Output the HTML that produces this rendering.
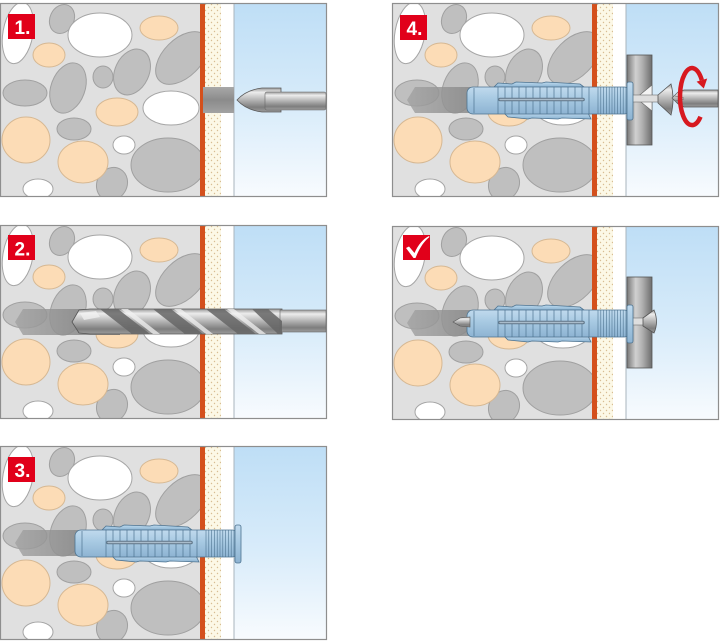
<!DOCTYPE html>
<html><head><meta charset="utf-8"><style>html,body{margin:0;padding:0;background:#fff}svg{display:block}</style></head>
<body>
<svg width="720" height="641" viewBox="0 0 720 641" xmlns="http://www.w3.org/2000/svg" xmlns:xlink="http://www.w3.org/1999/xlink">
<defs>
<clipPath id="cc"><rect x="0" y="0" width="200" height="194"/></clipPath>
<linearGradient id="blue" x1="0" y1="0" x2="0" y2="1"><stop offset="0" stop-color="#bedef6"/><stop offset="0.55" stop-color="#d9ecfa"/><stop offset="1" stop-color="#f8fbfe"/></linearGradient>
<pattern id="dots" width="6" height="6" patternUnits="userSpaceOnUse"><rect width="6" height="6" fill="#fcf8e6"/><circle cx="1.5" cy="1.5" r="0.7" fill="#d8bd92"/><circle cx="4.5" cy="4.5" r="0.7" fill="#d8bd92"/></pattern>
<linearGradient id="hole" x1="0" y1="0" x2="1" y2="0"><stop offset="0" stop-color="#a3a3a3"/><stop offset="0.5" stop-color="#8c8c8c"/><stop offset="1" stop-color="#767676"/></linearGradient>
<linearGradient id="hole1" x1="0" y1="0" x2="0" y2="1"><stop offset="0" stop-color="#a8a8a8"/><stop offset="0.5" stop-color="#8b8b8b"/><stop offset="1" stop-color="#a2a2a2"/></linearGradient>
<linearGradient id="steel" x1="0" y1="0" x2="0" y2="1"><stop offset="0" stop-color="#9a9a9a"/><stop offset="0.18" stop-color="#ececec"/><stop offset="0.45" stop-color="#bcbcbc"/><stop offset="0.8" stop-color="#7e7e7e"/><stop offset="1" stop-color="#9c9c9c"/></linearGradient>
<linearGradient id="cyl" x1="0" y1="0" x2="1" y2="0"><stop offset="0" stop-color="#777"/><stop offset="0.35" stop-color="#d0d0d0"/><stop offset="0.6" stop-color="#b2b2b2"/><stop offset="1" stop-color="#6d6d6d"/></linearGradient>
<linearGradient id="dw" x1="0" y1="0" x2="0" y2="1"><stop offset="0" stop-color="#c0daee"/><stop offset="0.45" stop-color="#a7c9e2"/><stop offset="1" stop-color="#8db3d2"/></linearGradient>

<g id="base">
  <rect x="0" y="0" width="200" height="194" fill="#e0e0e0"/>
  <g clip-path="url(#cc)" stroke-width="1">
    <g fill="#bfbfbf" stroke="#a0a0a0">
      <ellipse cx="62" cy="16" rx="12" ry="15" transform="rotate(25 62 16)"/>
      <ellipse cx="182" cy="55" rx="32" ry="19" transform="rotate(-45 182 55)"/>
      <ellipse cx="132" cy="69" rx="17" ry="24" transform="rotate(25 132 69)"/>
      <ellipse cx="103" cy="74" rx="10" ry="11"/>
      <ellipse cx="68" cy="85" rx="17" ry="26" transform="rotate(20 68 85)"/>
      <ellipse cx="25" cy="90" rx="22" ry="13"/>
      <ellipse cx="74" cy="126" rx="17" ry="11"/>
      <ellipse cx="168" cy="162" rx="37" ry="27"/>
      <ellipse cx="112" cy="181" rx="15" ry="17" transform="rotate(30 112 181)"/>
    </g>
    <g fill="#ffffff" stroke="#a5a5a5">
      <ellipse cx="18" cy="30" rx="15" ry="31" transform="rotate(10 18 30)"/>
      <ellipse cx="100" cy="32" rx="32" ry="22"/>
      <ellipse cx="171" cy="105" rx="28" ry="17"/>
      <ellipse cx="124" cy="142" rx="11" ry="9"/>
      <ellipse cx="38" cy="186" rx="15" ry="10"/>
    </g>
    <g fill="#fcdcb6" stroke="#d6b893">
      <ellipse cx="159" cy="25" rx="19" ry="12"/>
      <ellipse cx="49" cy="52" rx="16" ry="12"/>
      <ellipse cx="117" cy="109" rx="21" ry="14"/>
      <ellipse cx="26" cy="137" rx="24" ry="23"/>
      <ellipse cx="83" cy="159" rx="25" ry="21"/>
    </g>
  </g>
  <rect x="200" y="0" width="5" height="194" fill="#d4501c"/>
  <rect x="205" y="0" width="16" height="194" fill="url(#dots)"/>
  <rect x="221" y="0" width="13" height="194" fill="#ffffff"/>
  <rect x="234" y="0" width="92" height="194" fill="url(#blue)"/>
  <line x1="234" y1="0" x2="234" y2="194" stroke="#a9b4bd" stroke-width="1"/>
  <rect x="0.5" y="0.5" width="326" height="193" fill="none" stroke="#8e8e8e" stroke-width="1.2"/>
</g>

<polygon id="holeShape" points="15,97 23,84 120,84 120,110 23,110" fill="url(#hole)" opacity="0.82"/>

<g id="dowel">
  <path d="M102,84 L106,80 L120,81 L124,79 L150,80 L154,79 L188,81 L192,84 Z" fill="url(#dw)" stroke="#4d7390" stroke-width="0.8"/>
  <path d="M112,110 L196,110 L199,116 L170,115 L166,116 L140,115 L136,116 L116,114 Z" fill="url(#dw)" stroke="#4d7390" stroke-width="0.8"/>
  <rect x="75" y="84" width="163" height="27" rx="6" fill="url(#dw)" stroke="#4d7390" stroke-width="0.8"/>
  <line x1="82" y1="85" x2="82" y2="110" stroke="#4d7390" stroke-width="0.7"/>
  <g stroke="#4d7390" stroke-width="0.7">
    <line x1="106" y1="84" x2="106" y2="111"/><line x1="113" y1="84" x2="113" y2="111"/>
    <line x1="120" y1="84" x2="120" y2="111"/><line x1="127" y1="84" x2="127" y2="111"/>
    <line x1="134" y1="84" x2="134" y2="111"/><line x1="141" y1="84" x2="141" y2="111"/>
    <line x1="148" y1="84" x2="148" y2="111"/><line x1="155" y1="84" x2="155" y2="111"/>
    <line x1="162" y1="84" x2="162" y2="111"/><line x1="169" y1="84" x2="169" y2="111"/>
    <line x1="176" y1="84" x2="176" y2="111"/><line x1="183" y1="84" x2="183" y2="111"/>
    <line x1="190" y1="84" x2="190" y2="111"/><line x1="197" y1="84" x2="197" y2="111"/>
  </g>
  <g stroke="#4d7390" stroke-width="0.6">
    <line x1="206" y1="84" x2="206" y2="111"/><line x1="208.8" y1="84" x2="208.8" y2="111"/>
    <line x1="211.6" y1="84" x2="211.6" y2="111"/><line x1="214.4" y1="84" x2="214.4" y2="111"/>
    <line x1="217.2" y1="84" x2="217.2" y2="111"/><line x1="220" y1="84" x2="220" y2="111"/>
    <line x1="222.8" y1="84" x2="222.8" y2="111"/><line x1="225.6" y1="84" x2="225.6" y2="111"/>
    <line x1="228.4" y1="84" x2="228.4" y2="111"/><line x1="231.2" y1="84" x2="231.2" y2="111"/>
    <line x1="234" y1="84" x2="234" y2="111"/>
  </g>
  <line x1="108" y1="96.5" x2="191" y2="96.5" stroke="#5f7587" stroke-width="3.6" stroke-linecap="round"/>
  <line x1="108" y1="96.5" x2="191" y2="96.5" stroke="#a9bccb" stroke-width="1.4" stroke-linecap="round"/>
  <rect x="235" y="79" width="6" height="38" rx="2" fill="url(#dw)" stroke="#4d7390" stroke-width="0.8"/>
</g>
</defs>

<!-- Panel 1 -->
<g transform="translate(0,3)">
  <use xlink:href="#base" href="#base"/>
  <rect x="203" y="84" width="31" height="26" fill="url(#hole1)"/>
  <path d="M237,97 Q246,87 262,85 L281,85 L281,109 L262,109 Q246,107 237,97 Z" fill="url(#steel)" stroke="#5a5a5a" stroke-width="0.8"/>
  <rect x="265" y="89" width="61" height="18" rx="2" fill="url(#steel)" stroke="#666" stroke-width="0.6"/>
  <rect x="8" y="11" width="27" height="25" fill="#e1001a"/>
  <text x="14.5" y="31" font-family="Liberation Sans, Arial, sans-serif" font-weight="bold" font-size="19" fill="#fff">1.</text>
</g>

<!-- Panel 2 -->
<g transform="translate(0,225)">
  <use xlink:href="#base" href="#base"/>
  <use xlink:href="#holeShape" href="#holeShape"/>
  <path d="M72,97 L79,85 L90,84 L282,84 L282,109 L90,109 L79,108 Z" fill="url(#steel)" stroke="#555" stroke-width="0.8"/>
  <rect x="280" y="85" width="46" height="22" fill="url(#steel)" stroke="#666" stroke-width="0.6"/>
  <g fill="#666" opacity="0.85">
    <path d="M100,84 L118,84 L150,109 L132,109 Z"/>
    <path d="M153,84 L171,84 L203,109 L185,109 Z"/>
    <path d="M206,84 L224,84 L256,109 L238,109 Z"/>
    <path d="M252,84 L268,84 L282,96 L282,109 L278,109 Z"/>
  </g>
  <g fill="#f2f2f2" opacity="0.75">
    <path d="M121,84 L128,84 L160,109 L153,109 Z"/>
    <path d="M174,84 L181,84 L213,109 L206,109 Z"/>
    <path d="M227,84 L234,84 L266,109 L259,109 Z"/>
    <path d="M80,88 L96,86 L100,92 L84,95 Z"/>
  </g>
  <rect x="8" y="10" width="27" height="25" fill="#e1001a"/>
  <text x="14.5" y="30.5" font-family="Liberation Sans, Arial, sans-serif" font-weight="bold" font-size="19" fill="#fff">2.</text>
</g>

<!-- Panel 3 -->
<g transform="translate(0,446)">
  <use xlink:href="#base" href="#base"/>
  <use xlink:href="#holeShape" href="#holeShape"/>
  <use xlink:href="#dowel" href="#dowel"/>
  <rect x="8" y="11" width="27" height="25" fill="#e1001a"/>
  <text x="14.5" y="31" font-family="Liberation Sans, Arial, sans-serif" font-weight="bold" font-size="19" fill="#fff">3.</text>
</g>

<!-- Panel 4 -->
<g transform="translate(392,3)">
  <use xlink:href="#base" href="#base"/>
  <use xlink:href="#holeShape" href="#holeShape"/>
  <rect x="235" y="52" width="25" height="90" fill="url(#cyl)" stroke="#555" stroke-width="0.8"/>
  <polygon points="244,95 260,82 260,108" fill="#f4f4f4" stroke="#666" stroke-width="0.6"/>
  <rect x="238" y="92" width="30" height="7" fill="#dedede" stroke="#707070" stroke-width="0.6"/>
  <use xlink:href="#dowel" href="#dowel"/>
  <path d="M266,92 L279,81 Q283,96 279,112 L266,100 Z" fill="url(#steel)" stroke="#555" stroke-width="0.8"/>
  <path d="M280,95 L286,89 L292,87 L326,87 L326,104 L292,104 L286,101 Z" fill="url(#steel)" stroke="#555" stroke-width="0.7"/>
  <path d="M283,93 L292,95 M283,98 L292,96" stroke="#666" stroke-width="0.6" fill="none"/>
  <path d="M308.5,113.7 A12,28.5 0 1 1 309.8,77.1" fill="none" stroke="#d71920" stroke-width="4.5"/>
  <polygon points="311.8,85.5 315.2,75.5 304.6,78.6" fill="#d71920"/>
  <rect x="8" y="12" width="27" height="25" fill="#e1001a"/>
  <text x="14.5" y="32" font-family="Liberation Sans, Arial, sans-serif" font-weight="bold" font-size="19" fill="#fff">4.</text>
</g>

<!-- Panel 5 (check) -->
<g transform="translate(392,226)">
  <use xlink:href="#base" href="#base"/>
  <use xlink:href="#holeShape" href="#holeShape"/>
  <rect x="235" y="51" width="25" height="91" fill="url(#cyl)" stroke="#555" stroke-width="0.8"/>
  <rect x="238" y="92" width="15" height="7" fill="#dedede" stroke="#707070" stroke-width="0.6"/>
  <use xlink:href="#dowel" href="#dowel"/>
  <path d="M61,96 L68,92 L78,91 L78,101 L68,100 Z" fill="url(#steel)" stroke="#555" stroke-width="0.6"/>
  <path d="M251,92 L262,84 Q267,96 262,107 L251,100 Z" fill="url(#steel)" stroke="#555" stroke-width="0.8"/>
  <rect x="11" y="9" width="27" height="25" fill="#e1001a"/>
  <path d="M14,22 L17,20.5 L22.5,27 C26,19 31,13 37,10 L37.5,11 C32,15 27,23 23.5,32 L21.5,32 Z" fill="#fff"/>
</g>
</svg>
</body></html>
